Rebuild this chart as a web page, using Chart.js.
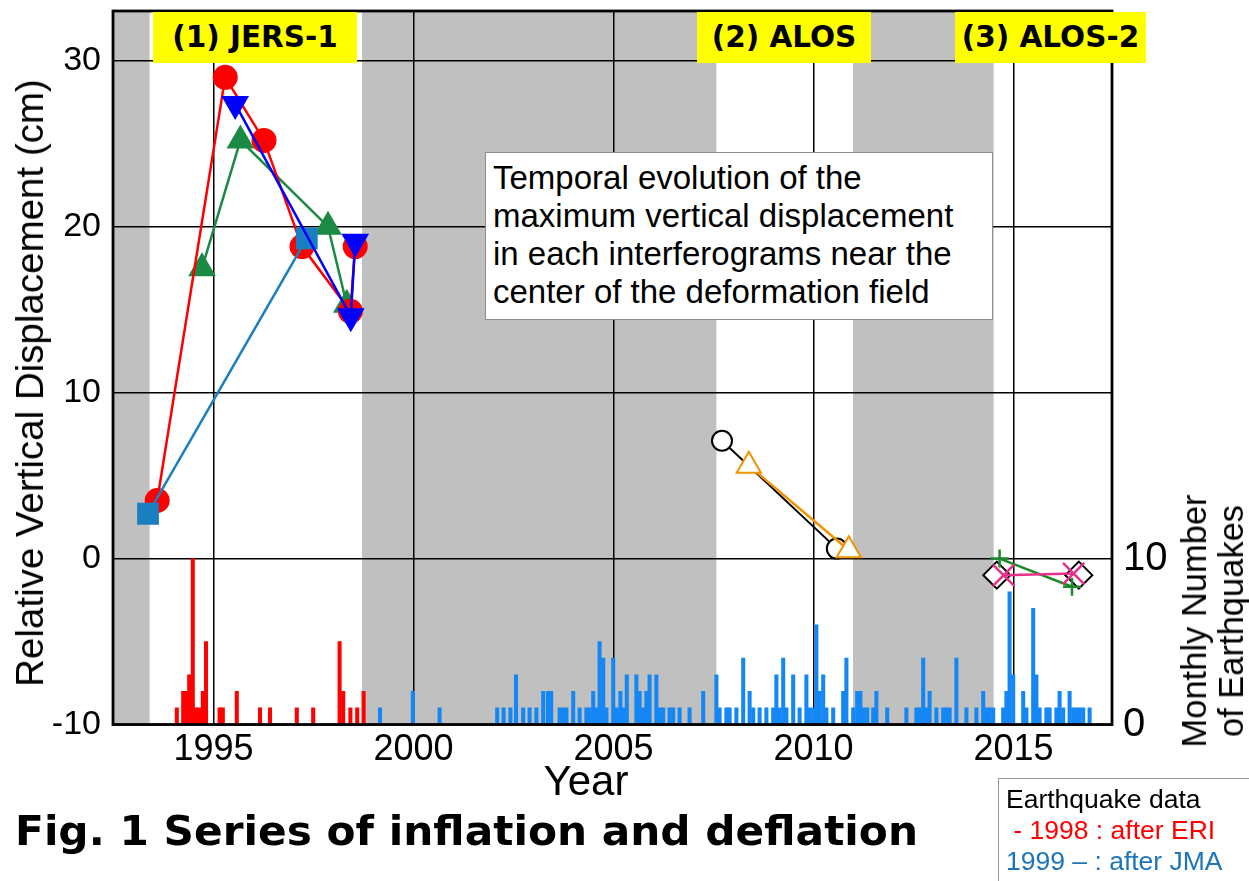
<!DOCTYPE html>
<html><head><meta charset="utf-8">
<script src="https://cdn.jsdelivr.net/npm/chart.js@4/dist/chart.umd.min.js"></script>
<style>
html,body{margin:0;padding:0;background:#fff;}
#wrap{position:relative;width:1249px;height:881px;overflow:hidden;font-family:"Liberation Sans",Arial,sans-serif;color:#000;}
#c{position:absolute;left:0;top:0;}
.ylab{position:absolute;background:#ffff00;font-family:"DejaVu Sans",sans-serif;font-weight:bold;font-size:29.5px;line-height:51px;text-align:center;color:#000;height:51px;top:12px;}
#note{position:absolute;left:485px;top:152px;width:508px;height:168px;border:1px solid #8c8c8c;background:#fff;font-size:33px;line-height:38px;padding:6px 0 0 7px;box-sizing:border-box;white-space:nowrap;}
#ytitle{position:absolute;left:30px;top:383px;transform:translate(-50%,-50%) rotate(-90deg);white-space:nowrap;font-size:38.5px;}
#y2title{position:absolute;left:1213px;top:621px;transform:translate(-50%,-50%) rotate(-90deg);white-space:nowrap;font-size:34.5px;line-height:37px;text-align:center;}
#xtitle{position:absolute;left:586px;top:781px;transform:translate(-50%,-50%);font-size:42px;}
#fig{position:absolute;left:15px;top:808px;font-family:"DejaVu Sans",sans-serif;font-weight:bold;font-size:40px;white-space:nowrap;transform-origin:0 0;}
#eq{position:absolute;left:998px;top:778px;width:260px;height:110px;border:1px solid #999;font-size:26.5px;line-height:31px;padding:5px 0 0 7px;box-sizing:border-box;white-space:nowrap;}
</style></head>
<body>
<div id="wrap">
<canvas id="c" width="1249" height="881"></canvas>
<div class="ylab" style="left:153px;width:204px;">(1) JERS-1</div>
<div class="ylab" style="left:697px;width:174px;">(2) ALOS</div>
<div class="ylab" style="left:955px;width:191px;">(3) ALOS-2</div>
<div id="note">Temporal evolution of the<br>maximum vertical displacement<br>in each interferograms near the<br>center of the deformation field</div>
<div id="ytitle">Relative Vertical Displacement (cm)</div>
<div id="y2title">Monthly Number<br>of Earthquakes</div>
<div id="xtitle">Year</div>
<div id="fig">Fig. 1 Series of inflation and deflation</div>
<div id="eq"><div>Earthquake data</div><div style="color:#ff0000;">&nbsp;- 1998 : after ERI</div><div style="color:#1c75bc;">1999 – : after JMA</div></div>
</div>
<script>
// ---- axes ----
const xTickYears = [1995, 2000, 2005, 2010, 2015];
const yTicks = [-10, 0, 10, 20, 30];
const y2Ticks = [0, 10];

// ---- grey background periods (years) ----
const bandStart = [1992.3, 1998.71, 2010.985];
const bandEnd   = [1993.40, 2007.57, 2014.50];

// ---- (1) JERS-1 series ----
const jersRedX   = [1993.59, 1995.29, 1996.26, 1997.21, 1998.42, 1998.54];
const jersRedY   = [3.5, 29.0, 25.2, 18.8, 14.9, 18.8];
const jersBlueX  = [1995.54, 1998.43, 1998.54];
const jersBlueY  = [27.4, 14.6, 19.1];
const jersGreenX = [1994.71, 1995.67, 1997.86, 1998.33];
const jersGreenY = [17.5, 25.2, 20.0, 15.3];
const jersSqX    = [1993.36, 1997.33];
const jersSqY    = [2.7, 19.3];

// ---- (2) ALOS series ----
const alosCircX = [2007.71, 2010.58];
const alosCircY = [7.1, 0.6];
const alosTriX  = [2008.38, 2010.88];
const alosTriY  = [5.6, 0.5];

// ---- (3) ALOS-2 series ----
const alos2DiaX   = [2014.58, 2016.63];
const alos2DiaY   = [-1.0, -1.0];
const alos2PlusX  = [2014.65, 2016.46];
const alos2PlusY  = [0.0, -1.7];
const alos2CrossX = [2014.75, 2016.50];
const alos2CrossY = [-1.0, -0.9];

// ---- monthly earthquakes, ERI (-1998) ----
const eriYears  = [1994.08, 1994.24, 1994.31, 1994.39, 1994.48, 1994.56, 1994.64, 1994.73, 1994.81,
                   1995.15, 1995.23, 1995.58, 1996.16, 1996.41, 1997.08, 1997.49,
                   1998.15, 1998.24, 1998.42, 1998.59, 1998.75];
const eriCounts = [1, 2, 2, 3, 10, 1, 1, 2, 5,
                   1, 1, 2, 1, 1, 1, 1,
                   5, 2, 1, 1, 2];

// ---- monthly earthquakes, JMA (1999-) ----
const jmaYears = [1999.16, 1999.98, 2000.65,
  2002.09, 2002.25, 2002.42, 2002.56, 2002.74, 2002.90, 2003.07, 2003.24, 2003.36, 2003.44,
  2003.65, 2003.74, 2003.82, 2003.99, 2004.15, 2004.32, 2004.40, 2004.49, 2004.57, 2004.65, 2004.74, 2004.82, 2004.99,
  2005.08, 2005.17, 2005.25, 2005.33, 2005.57, 2005.65, 2005.74, 2005.82, 2005.90,
  2006.07, 2006.15, 2006.24, 2006.40, 2006.49, 2006.65, 2006.90,
  2007.24, 2007.57, 2007.65, 2007.82, 2007.90,
  2008.07, 2008.24, 2008.40, 2008.49, 2008.65, 2008.82, 2008.99,
  2009.07, 2009.15, 2009.24, 2009.32, 2009.49, 2009.65, 2009.82, 2009.90, 2009.99,
  2010.07, 2010.15, 2010.24, 2010.32, 2010.49, 2010.74, 2010.82, 2010.99,
  2011.09, 2011.17, 2011.25, 2011.34, 2011.49, 2011.57, 2011.84,
  2012.32, 2012.57, 2012.65, 2012.74, 2012.82, 2012.90,
  2013.07, 2013.24, 2013.32, 2013.40, 2013.57, 2013.82,
  2014.07, 2014.24, 2014.32, 2014.40, 2014.49, 2014.74, 2014.82, 2014.90, 2014.99,
  2015.24, 2015.32, 2015.49, 2015.57, 2015.65, 2015.82, 2015.90,
  2016.07, 2016.15, 2016.24, 2016.40, 2016.49, 2016.57, 2016.65, 2016.74, 2016.90];
const jmaCounts = [1, 2, 1,
  1, 1, 1, 3, 1, 1, 1, 2, 2, 2,
  1, 1, 1, 2, 1, 1, 1, 2, 1, 5, 4, 1, 4,
  1, 2, 1, 3, 3, 2, 1, 2, 3,
  3, 1, 1, 1, 1, 1, 1,
  2, 3, 1, 1, 1,
  1, 4, 2, 1, 1, 1, 1,
  3, 1, 4, 1, 3, 1, 3, 1, 1,
  6, 2, 3, 1, 1, 2, 4, 1,
  2, 2, 1, 1, 1, 2, 1,
  1, 1, 1, 4, 1, 2,
  1, 1, 1, 1, 4, 1,
  1, 2, 1, 1, 1, 1, 2, 8, 3,
  2, 1, 7, 3, 1, 1, 1,
  1, 2, 1, 2, 1, 1, 1, 1, 1];

const pts = (xs, ys) => xs.map((x, i) => ({x: x, y: ys[i]}));
const FONT = '"Liberation Sans", Arial, sans-serif';

// stretch the figure caption to its width in the reference
(function () {
  const f = document.getElementById('fig');
  const w = f.getBoundingClientRect().width;
  f.style.transform = 'scaleX(' + (903 / w) + ')';
})();

const bgPlugin = {
  id: 'bands',
  beforeDraw(chart) {
    const {ctx, chartArea: a, scales: {x}} = chart;
    ctx.save();
    ctx.fillStyle = '#fff';
    ctx.fillRect(0, 0, chart.width, chart.height);
    ctx.fillStyle = '#c0c0c0';
    for (let i = 0; i < bandStart.length; i++) {
      const x0 = Math.max(a.left, x.getPixelForValue(bandStart[i]));
      const x1 = Math.min(a.right, x.getPixelForValue(bandEnd[i]));
      ctx.fillRect(x0, a.top, x1 - x0, a.bottom - a.top);
    }
    ctx.restore();
  },
  afterDatasetsDraw(chart) {
    const {ctx, chartArea: a} = chart;
    ctx.save();
    ctx.strokeStyle = '#000';
    ctx.lineWidth = 2.8;
    ctx.strokeRect(a.left, a.top, a.right - a.left, a.bottom - a.top);
    ctx.restore();
  }
};

const noPad = s => { s.paddingTop = 0; s.paddingBottom = 0; s.paddingLeft = 0; s.paddingRight = 0; };

const lineDs = (label, data, color, style, radius, fill, order, extra) => Object.assign({
  type: 'scatter', label, data, showLine: true, borderColor: color, borderWidth: 2.5,
  pointStyle: style, pointRadius: radius, pointBackgroundColor: fill, pointBorderColor: color,
  pointBorderWidth: 2, order, clip: false
}, extra || {});

new Chart(document.getElementById('c'), {
  type: 'scatter',
  data: {
    datasets: [
      lineDs('JERS-1 a', pts(jersBlueX, jersBlueY), '#0000ff', 'triangle', 14, '#0000ff', 1, {pointRotation: 180}),
      lineDs('JERS-1 b', pts(jersSqX, jersSqY), '#1a7fc1', 'rect', 14, '#1a7fc1', 2),
      lineDs('JERS-1 c', pts(jersRedX, jersRedY), '#ff0000', 'circle', 11.5, '#ff0000', 3),
      lineDs('JERS-1 d', pts(jersGreenX, jersGreenY), '#1b8a45', 'triangle', 14, '#1b8a45', 4),
      lineDs('ALOS tri', pts(alosTriX, alosTriY), '#f39200', 'triangle', 14, '#ffffff', 5),
      lineDs('ALOS circ', pts(alosCircX, alosCircY), '#000000', 'circle', 10, '#ffffff', 6, {borderWidth: 2}),
      lineDs('ALOS-2 x', pts(alos2CrossX, alos2CrossY), '#e6308a', 'crossRot', 15, '#e6308a', 7, {pointBorderWidth: 2.5}),
      lineDs('ALOS-2 +', pts(alos2PlusX, alos2PlusY), '#1b8a2a', 'cross', 9, '#1b8a2a', 8, {pointBorderWidth: 2.5}),
      lineDs('ALOS-2 d', pts(alos2DiaX, alos2DiaY), '#000000', 'rectRot', 13.5, '#ffffff', 9, {showLine: false}),
      {type: 'bar', label: 'JMA', data: pts(jmaYears, jmaCounts), yAxisID: 'y2', xAxisID: 'x',
       backgroundColor: '#1487f5', borderWidth: 0, barThickness: 3.4, grouped: false, order: 20},
      {type: 'bar', label: 'ERI', data: pts(eriYears, eriCounts), yAxisID: 'y2', xAxisID: 'x',
       backgroundColor: '#ff0000', borderWidth: 0, barThickness: 3.4, grouped: false, order: 21}
    ]
  },
  options: {
    responsive: false, animation: false, devicePixelRatio: 1,
    layout: {autoPadding: false, padding: {top: 11, left: 0, right: 0, bottom: 0}},
    plugins: {legend: {display: false}, tooltip: {enabled: false}},
    scales: {
      x: {
        type: 'linear', min: 1992.485, max: 2017.46, offset: false,
        afterBuildTicks: s => { s.ticks = xTickYears.map(v => ({value: v})); },
        afterFit: s => { s.height = 156.5; noPad(s); },
        grid: {color: '#000', lineWidth: 1.5, drawTicks: false, offset: false},
        border: {display: false},
        ticks: {color: '#000', font: {family: FONT, size: 36}, padding: 4, maxRotation: 0, autoSkip: false,
                callback: v => String(v)}
      },
      y: {
        type: 'linear', position: 'left', min: -10, max: 33,
        afterBuildTicks: s => { s.ticks = yTicks.map(v => ({value: v})); },
        afterFit: s => { s.width = 113; noPad(s); },
        grid: {color: '#000', lineWidth: 1.5, drawTicks: false},
        border: {display: false},
        ticks: {color: '#000', font: {family: FONT, size: 34}, padding: 12, callback: v => String(v)}
      },
      y2: {
        type: 'linear', position: 'right', min: 0, max: 43,
        afterBuildTicks: s => { s.ticks = y2Ticks.map(v => ({value: v})); },
        afterFit: s => { s.width = 137; noPad(s); },
        grid: {display: false, drawTicks: false},
        border: {display: false},
        ticks: {color: '#000', font: {family: FONT, size: 40}, padding: 11, callback: v => String(v)}
      }
    }
  },
  plugins: [bgPlugin]
});
</script>
</body></html>
